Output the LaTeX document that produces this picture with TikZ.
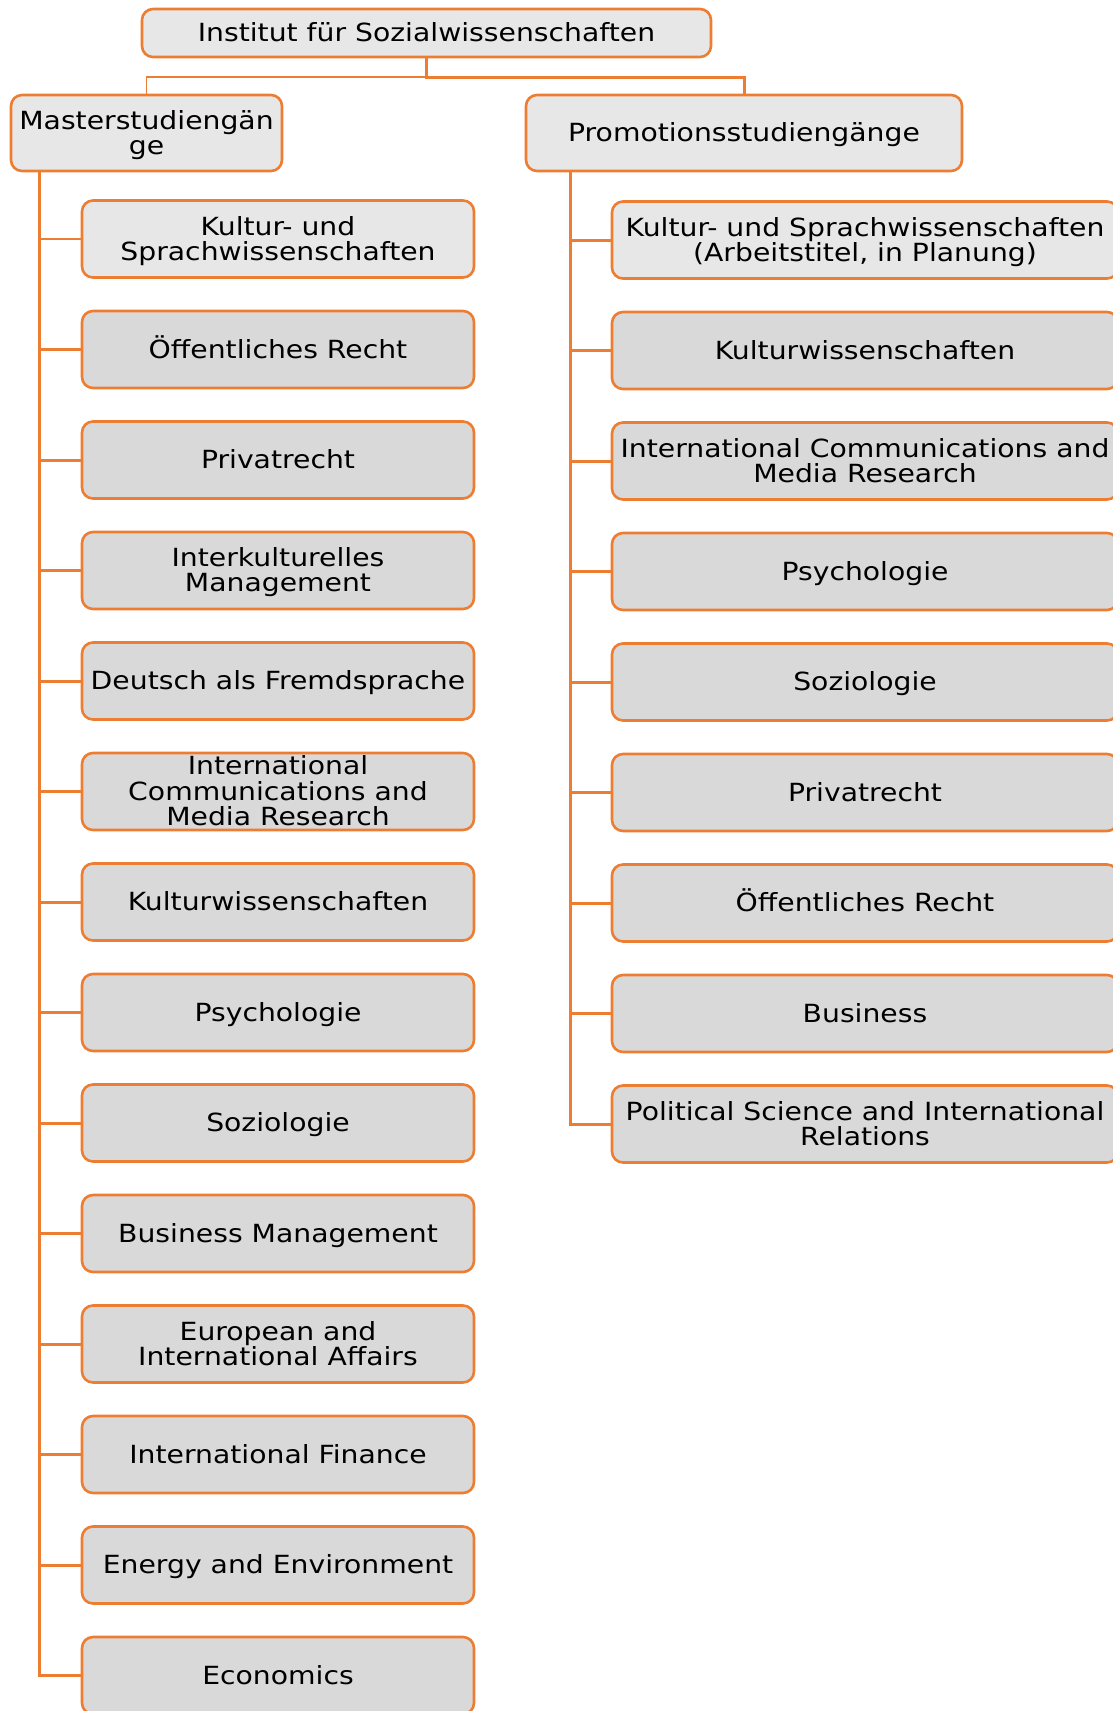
\documentclass[tikz,border=0pt]{standalone}
\usepackage{fontspec}
\setmainfont{DejaVu Sans}[FakeStretch=1.13]
\definecolor{org}{HTML}{ED7D31}
\definecolor{lite}{HTML}{E7E7E7}
\definecolor{dark}{HTML}{D9D9D9}
\newcommand\mytopstrut{\rule{0pt}{23.2pt}}
\newcommand\mybotstrut{\rule[-5.9pt]{0pt}{5.9pt}}
\begin{document}
\begin{tikzpicture}[x=1pt,y=-1pt,
  box/.style={draw=org, line width=2.6pt, rounded corners=11pt, fill=dark,
    align=center, inner sep=0pt, font=\fontsize{25}{25.3}\selectfont},
  litebox/.style={box, fill=lite},
  lbox/.style={box, minimum width=392pt, minimum height=77pt},
  rbox/.style={box, minimum width=506pt, minimum height=77pt},
  conn/.style={draw=org, line width=3pt},
  thinconn/.style={draw=org, line width=1.3pt}
]
\useasboundingbox (0,0) rectangle (1113,1711);
\clip (0,0) rectangle (1113,1711);

\node[litebox, minimum width=569pt, minimum height=48pt] (T) at (426.5,33) {\mytopstrut Institut für Sozialwissenschaften\mybotstrut};
\node[litebox, minimum width=271pt, minimum height=76pt] (M) at (146.5,133) {\mytopstrut Masterstudiengän\\ge\mybotstrut};
\node[litebox, minimum width=436pt, minimum height=76pt] (P) at (744,133) {\mytopstrut Promotionsstudiengänge\mybotstrut};

\node[lbox, fill=lite] (L1) at (278,239) {\mytopstrut Kultur- und\\Sprachwissenschaften\mybotstrut};
\node[lbox] (L2) at (278,349.5) {\mytopstrut Öffentliches Recht\mybotstrut};
\node[lbox] (L3) at (278,460) {\mytopstrut Privatrecht\mybotstrut};
\node[lbox] (L4) at (278,570.5) {\mytopstrut Interkulturelles\\Management\mybotstrut};
\node[lbox] (L5) at (278,681) {\mytopstrut Deutsch als Fremdsprache\mybotstrut};
\node[lbox] (L6) at (278,791.5) {\rule{0pt}{21.8pt}International\\Communications and\\Media Research\rule[-4.5pt]{0pt}{4.5pt}};
\node[lbox] (L7) at (278,902) {\mytopstrut Kulturwissenschaften\mybotstrut};
\node[lbox] (L8) at (278,1012.5) {\mytopstrut Psychologie\mybotstrut};
\node[lbox] (L9) at (278,1123) {\mytopstrut Soziologie\mybotstrut};
\node[lbox] (L10) at (278,1233.5) {\mytopstrut Business Management\mybotstrut};
\node[lbox] (L11) at (278,1344) {\mytopstrut European and\\International Affairs\mybotstrut};
\node[lbox] (L12) at (278,1454.5) {\mytopstrut International Finance\mybotstrut};
\node[lbox] (L13) at (278,1565) {\mytopstrut Energy and Environment\mybotstrut};
\node[lbox] (L14) at (278,1675.5) {\mytopstrut Economics\mybotstrut};

\node[rbox, fill=lite] (R1) at (865,240) {\mytopstrut Kultur- und Sprachwissenschaften\\(Arbeitstitel, in Planung)\mybotstrut};
\node[rbox] (R2) at (865,350.5) {\mytopstrut Kulturwissenschaften\mybotstrut};
\node[rbox] (R3) at (865,461) {\mytopstrut International Communications and\\Media Research\mybotstrut};
\node[rbox] (R4) at (865,571.5) {\mytopstrut Psychologie\mybotstrut};
\node[rbox] (R5) at (865,682) {\mytopstrut Soziologie\mybotstrut};
\node[rbox] (R6) at (865,792.5) {\mytopstrut Privatrecht\mybotstrut};
\node[rbox] (R7) at (865,903) {\mytopstrut Öffentliches Recht\mybotstrut};
\node[rbox] (R8) at (865,1013.5) {\mytopstrut Business\mybotstrut};
\node[rbox] (R9) at (865,1124) {\mytopstrut Political Science and International\\Relations\mybotstrut};

\coordinate (J) at (426.5,77);
\coordinate (LT) at (39,0);
\coordinate (RT) at (570,0);

\draw[conn] (T.south) -- (J) -| (P.north);
\draw[thinconn] (J) -| (M.north);

\draw[conn] (M.south -| LT) |- (L14.west);
\draw[thinconn] (LT |- L1.west) -- (L1.west);
\foreach \i in {2,...,13} { \draw[conn] (LT |- L\i.west) -- (L\i.west); }

\draw[conn] (P.south -| RT) |- (R9.west);
\foreach \i in {1,...,8} { \draw[conn] (RT |- R\i.west) -- (R\i.west); }
\end{tikzpicture}
\end{document}
